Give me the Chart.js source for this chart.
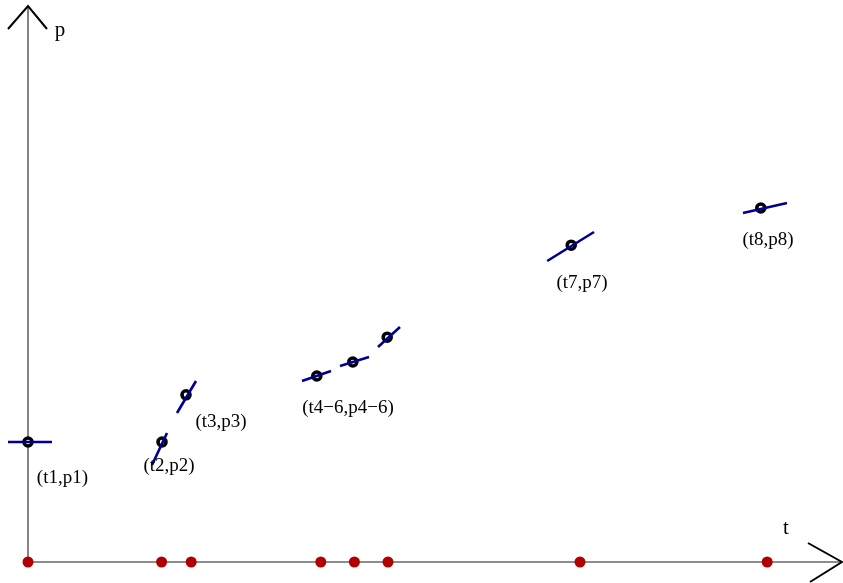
<!DOCTYPE html>
<html>
<head>
<meta charset="utf-8">
<script src="https://cdn.jsdelivr.net/npm/chart.js@4.4.1/dist/chart.umd.min.js"></script>
<style>
  html, body { margin: 0; padding: 0; background: #ffffff; }
  #wrap { width: 843px; height: 583px; position: relative; }
</style>
</head>
<body>
<div id="wrap"><canvas id="c"></canvas></div>
<script>
// ---- Data (t, p units; origin at the axes crossing) ----
// Time instants marked on the t axis (red dots)
const tickT = [0, 1.67, 2.04, 3.66, 4.08, 4.5, 6.9, 9.24];

// Sampled points (t_i, p_i) drawn as rings
const pointT = [0, 1.675, 1.975, 3.61, 4.06, 4.49, 6.79, 9.16];
const pointP = [1.5, 1.5, 2.09, 2.325, 2.5, 2.81, 3.96, 4.425];

// Short tangent segments through each point: start and end
const tanT0 = [-0.25, 1.55, 1.8625, 3.425, 3.9, 4.375, 6.49, 8.9375];
const tanP0 = [1.5, 1.2125, 1.8625, 2.2625, 2.45, 2.6875, 3.7625, 4.3625];
const tanT1 = [0.3, 1.7375, 2.1, 3.7875, 4.2625, 4.65, 7.075, 9.4875];
const tanP1 = [1.5, 1.6125, 2.2625, 2.3875, 2.5625, 2.9375, 4.125, 4.4875];

// Point labels and their anchor positions
const labelText = ["(t1,p1)", "(t2,p2)", "(t3,p3)", "(t4\u22126,p4\u22126)", "(t7,p7)", "(t8,p8)"];
const labelT = [0.43, 1.7625, 2.4125, 4.0, 6.925, 9.25];
const labelP = [1.05, 1.2, 1.75, 1.925, 3.4875, 4.025];

// Axis names
const axisText = ["p", "t"];
const axisTextT = [0.4, 9.475];
const axisTextP = [6.65, 0.425];

// Axes extent and arrowheads
const tAxisEnd = 10.175;
const pAxisEnd = 6.95;
const pArrowT = [-0.25, 0, 0.2375];
const pArrowP = [6.6625, 6.95, 6.6625];
const tArrowT = [9.75, 10.175, 9.775];
const tArrowP = [0.2375, 0, -0.25];

// View window
const tMin = -0.35, tMax = 10.1875;
const pMin = -0.2625, pMax = 7.025;

// ---- Build datasets ----
const datasets = [];

// axes (grey)
datasets.push({
  data: [{x: 0, y: 0}, {x: tAxisEnd, y: 0}],
  showLine: true, borderColor: '#666666', borderWidth: 1.6, pointRadius: 0, order: 10, clip: false
});
datasets.push({
  data: [{x: 0, y: 0}, {x: 0, y: pAxisEnd}],
  showLine: true, borderColor: '#666666', borderWidth: 1.6, pointRadius: 0, order: 10, clip: false
});
// arrowheads (black)
datasets.push({
  data: pArrowT.map((t, i) => ({x: t, y: pArrowP[i]})),
  showLine: true, borderColor: '#000000', borderWidth: 2, pointRadius: 0, order: 9, clip: false
});
datasets.push({
  data: tArrowT.map((t, i) => ({x: t, y: tArrowP[i]})),
  showLine: true, borderColor: '#000000', borderWidth: 2, pointRadius: 0, order: 9, clip: false
});
// rings
datasets.push({
  data: pointT.map((t, i) => ({x: t, y: pointP[i]})),
  showLine: false, pointRadius: 4, pointBorderWidth: 3.6,
  pointBorderColor: '#000000', pointBackgroundColor: '#ffffff', order: 6, clip: false
});
// tangent segments (navy), drawn over the rings
for (let i = 0; i < tanT0.length; i++) {
  datasets.push({
    data: [{x: tanT0[i], y: tanP0[i]}, {x: tanT1[i], y: tanP1[i]}],
    showLine: true, borderColor: '#000090', borderWidth: 2.6, pointRadius: 0, order: 3, clip: false
  });
}
// red dots on t axis
datasets.push({
  data: tickT.map(t => ({x: t, y: 0})),
  showLine: false, pointRadius: 5.5, pointBorderWidth: 0,
  pointBorderColor: '#b00000', pointBackgroundColor: '#b00000', order: 1, clip: false
});

const textPlugin = {
  id: 'texts',
  afterDatasetsDraw(chart) {
    const ctx = chart.ctx;
    const xs = chart.scales.x, ys = chart.scales.y;
    ctx.save();
    ctx.fillStyle = '#000000';
    ctx.textAlign = 'center';
    ctx.textBaseline = 'middle';
    ctx.font = '19px "Liberation Serif", "DejaVu Serif", serif';
    labelText.forEach((s, i) => {
      ctx.fillText(s, xs.getPixelForValue(labelT[i]), ys.getPixelForValue(labelP[i]));
    });
    ctx.font = '21px "Liberation Serif", "DejaVu Serif", serif';
    axisText.forEach((s, i) => {
      ctx.fillText(s, xs.getPixelForValue(axisTextT[i]), ys.getPixelForValue(axisTextP[i]));
    });
    ctx.restore();
  }
};

new Chart(document.getElementById('c'), {
  type: 'scatter',
  data: { datasets },
  options: {
    responsive: true,
    maintainAspectRatio: false,
    animation: false,
    layout: { padding: 0, autoPadding: false },
    plugins: { legend: { display: false }, tooltip: { enabled: false } },
    events: [],
    scales: {
      x: { type: 'linear', display: false, min: tMin, max: tMax },
      y: { type: 'linear', display: false, min: pMin, max: pMax }
    }
  },
  plugins: [textPlugin]
});
</script>
</body>
</html>
